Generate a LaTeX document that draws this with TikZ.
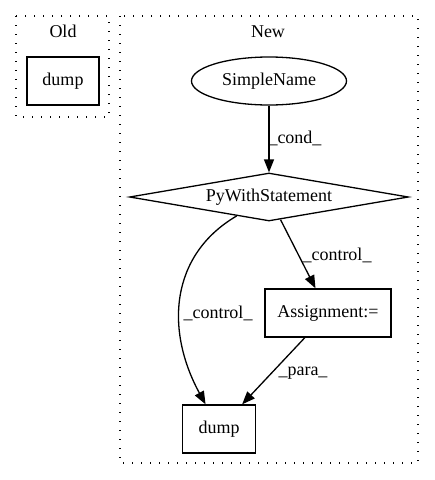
\documentclass[tikz,border=0pt]{standalone}
\usepackage{fontspec}
\setmainfont{Liberation Serif}
\usetikzlibrary{shapes.geometric,arrows.meta}
\begin{document}
\begin{tikzpicture}[x=1pt,y=-1pt,
  every node/.style={font=\fontsize{18}{20}\selectfont, inner sep=0pt},
  cluster/.style={draw, line width=1.3pt, dash pattern=on 1.3pt off 7.7pt},
  box/.style={draw, rectangle, line width=1.3pt, minimum width=72pt, minimum height=48pt},
  edge/.style={draw, line width=1.3pt, -{Triangle[length=13pt,width=10pt]}},
  lbl/.style={fill=none}
]
\useasboundingbox (0,0) rectangle (435,480);
% clusters
\draw[cluster] (16,16) rectangle (109,117);
\draw[cluster] (120,16) rectangle (418,463);
\node (oldlbl) at (63,31) {Old};
\node (newlbl) at (268,32) {New};
% nodes
\node[box] (olddump) at (63,81) {dump};
\node[draw, ellipse, line width=1.3pt, minimum width=155pt, minimum height=48pt] (sn) at (269,81) {SimpleName};
\node[draw, diamond, line width=1.3pt, minimum width=279pt, minimum height=48pt, aspect=5.8] (pw) at (269,197) {PyWithStatement};
\node[box, minimum width=126pt] (asg) at (328,313) {Assignment:=};
\node[box, minimum width=73pt] (dump) at (219,429) {dump};
% edges
\draw[edge] (sn) -- (pw);
\draw[edge] (pw) -- (asg);
\draw[edge] (pw) .. controls (170,255) and (165,330) .. (dump);
\draw[edge] (asg) -- (dump);
% edge labels
\node[lbl] (lcond) at (295,138) {\_cond\_};
\node[lbl] (lctrl1) at (337,255) {\_control\_};
\node[lbl] (lctrl2) at (218,313) {\_control\_};
\node[lbl] (lpara) at (303,373) {\_para\_};
\end{tikzpicture}
\end{document}
